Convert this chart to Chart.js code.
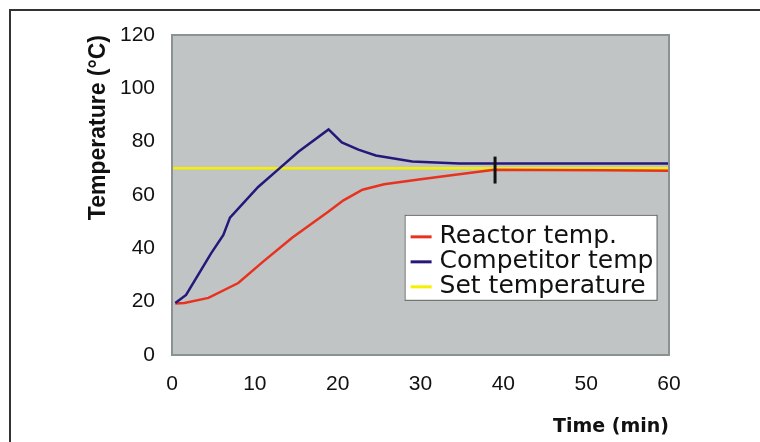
<!DOCTYPE html>
<html>
<head>
<meta charset="utf-8">
<script src="https://cdn.jsdelivr.net/npm/chart.js@4"></script>
<style>
  body { margin: 0; background: #fff; overflow: hidden; }
  #wrap { width: 760px; height: 442px; position: relative; }
</style>
</head>
<body>
<div id="wrap"><canvas id="chart" width="760" height="442"></canvas></div>
<script>
// data
const reactorTime = [0.4, 1.5, 4.4, 8, 11, 14.5, 18.9, 20.7, 23, 25.6, 29.8, 33.5, 38.9, 45, 52, 60];
const reactorTemp = [19.3, 19.5, 21.4, 27, 35, 44, 53.8, 58, 62, 64, 65.8, 67.3, 69.5, 69.4, 69.3, 69.1];
const competitorTime = [0.4, 1.7, 4.7, 6.2, 7, 10.4, 12.8, 15.3, 18.9, 20.5, 22.5, 24.6, 29, 34.7, 45, 60];
const competitorTemp = [19.5, 22.5, 38, 45, 51.5, 63, 69.5, 76.3, 84.6, 79.7, 77, 74.8, 72.6, 71.8, 71.8, 71.8];
const setTime = [0, 60];
const setTemp = [70, 70];
const markerTime = [39, 39];
const markerTemp = [64.3, 74.4];

const xTicks = [0, 10, 20, 30, 40, 50, 60];
const yTicks = [0, 20, 40, 60, 80, 100, 120];

function pts(xs, ys) {
  return xs.map(function (x, i) { return { x: x, y: ys[i] }; });
}

// grey plot area, its border and the outer frame
const backdrop = {
  id: 'backdrop',
  beforeDatasetsDraw(chart) {
    const a = chart.chartArea, c = chart.ctx;
    c.save();
    c.fillStyle = '#c0c4c4';
    c.fillRect(a.left, a.top, a.right - a.left, a.bottom - a.top);
    c.restore();
  },
  afterDraw(chart) {
    const a = chart.chartArea, c = chart.ctx;
    c.save();
    c.strokeStyle = '#8a9292';
    c.lineWidth = 2;
    c.strokeRect(a.left, a.top, a.right - a.left, a.bottom - a.top);
    c.strokeStyle = '#333';
    c.lineWidth = 2;
    c.beginPath();
    c.moveTo(10, 442);
    c.lineTo(10, 10);
    c.lineTo(760, 10);
    c.stroke();
    c.restore();
  }
};

// legend box drawn inside the plot area
const boxLegend = {
  id: 'boxLegend',
  afterDraw(chart) {
    const a = chart.chartArea, c = chart.ctx;
    const w = a.right - a.left, h = a.bottom - a.top;
    const x0 = a.left + w * 0.468, y0 = a.top + h * 0.562;
    const bw = 252, bh = 85;
    c.save();
    c.fillStyle = '#fff';
    c.fillRect(x0, y0, bw, bh);
    c.strokeStyle = '#666';
    c.lineWidth = 1;
    c.strokeRect(x0 + 0.5, y0 + 0.5, bw, bh);
    c.font = '25px "DejaVu Sans"';
    c.textBaseline = 'middle';
    chart.data.datasets.slice(0, 3).forEach(function (ds, i) {
      const yy = y0 + 22 + i * 25;
      c.strokeStyle = ds.borderColor;
      c.lineWidth = 3;
      c.beginPath();
      c.moveTo(x0 + 6, yy);
      c.lineTo(x0 + 27, yy);
      c.stroke();
      c.fillStyle = '#111';
      c.fillText(ds.label, x0 + 35, yy);
    });
    c.restore();
  }
};

new Chart(document.getElementById('chart').getContext('2d'), {
  type: 'line',
  data: {
    datasets: [
      { label: 'Reactor temp.', data: pts(reactorTime, reactorTemp), borderColor: '#e83220', borderWidth: 2.5, order: 2 },
      { label: 'Competitor temp', data: pts(competitorTime, competitorTemp), borderColor: '#26187a', borderWidth: 2.5, order: 1 },
      { label: 'Set temperature', data: pts(setTime, setTemp), borderColor: '#f4f000', borderWidth: 2.5, order: 3 },
      { label: 'marker', data: pts(markerTime, markerTemp), borderColor: '#111', borderWidth: 3, order: 0 }
    ]
  },
  options: {
    responsive: false,
    animation: false,
    elements: { point: { radius: 0 }, line: { tension: 0 } },
    layout: { padding: { top: 35, right: 91, left: 85, bottom: 0 } },
    plugins: { legend: { display: false }, tooltip: { enabled: false } },
    scales: {
      x: {
        type: 'linear',
        min: 0, max: 60,
        afterBuildTicks(s) { s.ticks = xTicks.map(function (v) { return { value: v }; }); },
        afterFit(s) { s.height = 87; },
        grid: { display: false, drawTicks: false },
        border: { display: false },
        ticks: { padding: 17, color: '#111', font: { family: '"Liberation Sans"', size: 21 } },
        title: { display: true, text: 'Time (min)', align: 'end', color: '#111', padding: { top: 0 },
                 font: { family: '"DejaVu Sans"', weight: 'bold', size: 19 } }
      },
      y: {
        min: 0, max: 120,
        afterBuildTicks(s) { s.ticks = yTicks.map(function (v) { return { value: v }; }); },
        afterFit(s) { s.width = 87; },
        grid: { display: false, drawTicks: false },
        border: { display: false },
        ticks: { padding: 17, color: '#111', font: { family: '"Liberation Sans"', size: 21 } },
        title: { display: true, text: 'Temperature (°C)', align: 'end', color: '#111', padding: { top: 0, bottom: 0 },
                 font: { family: '"Liberation Sans"', weight: 'bold', size: 23 } }
      }
    }
  },
  plugins: [backdrop, boxLegend]
});
</script>
</body>
</html>
